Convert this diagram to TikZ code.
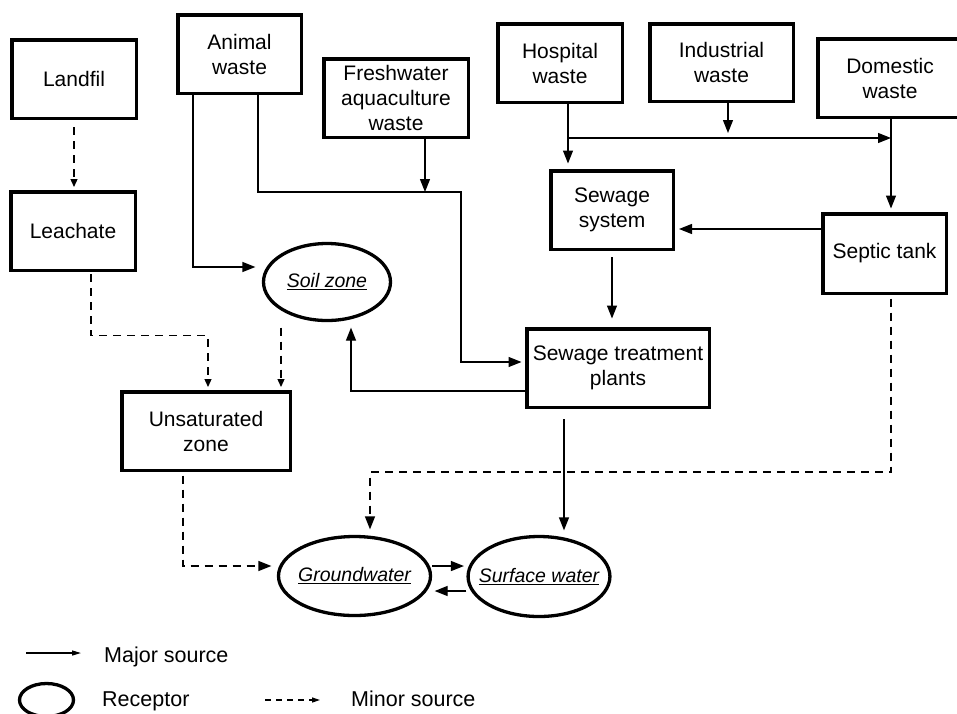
\documentclass[tikz,border=0pt]{standalone}
\usepackage{fontspec}
\setmainfont{Liberation Sans}
\usetikzlibrary{arrows.meta,shapes.geometric}
\newcommand\boxfont{\fontsize{21}{25}\selectfont}
\newcommand\recfont{\fontsize{19.5}{23}\selectfont\itshape}
\newcommand\keyfont{\fontsize{21.5}{25}\selectfont}

\begin{document}
\begin{tikzpicture}[x=1pt,y=-1pt,
	srcbox/.style={draw, line width=3.5pt, align=center, inner sep=0pt, font=\boxfont},
	receptor/.style={ellipse, draw, line width=3.3pt, inner xsep=-10pt, inner ysep=0pt, font=\recfont},
	majorflow/.style={line width=1.3pt, -{Triangle[length=13pt,width=10pt]}},
	minorflow/.style={majorflow, dash pattern=on 8pt off 6pt},
	minorthin/.style={line width=1.3pt, dash pattern=on 8pt off 6pt, -{Triangle[length=8pt,width=7pt]}},
	keytext/.style={anchor=base west, inner sep=0pt, font=\keyfont}]
	\useasboundingbox (0,0) rectangle (957,713);
	% sources and stages
	\node (landfil)    at (74,79)      [srcbox, minimum width=124.5pt, minimum height=78.5pt] {Landfil};
	\node (leachate)   at (73,231)     [srcbox, minimum width=124.5pt, minimum height=78.5pt] {Leachate};
	\node (animal)     at (239.5,54)   [srcbox, minimum width=123.5pt, minimum height=78.5pt] {Animal\\waste};
	\node (fresh)      at (396,98)     [srcbox, minimum width=144.5pt, minimum height=78.5pt] {Freshwater\\aquaculture\\waste};
	\node (hospital)   at (560,63)     [srcbox, minimum width=124.5pt, minimum height=78.5pt] {Hospital\\waste};
	\node (industrial) at (721.5,62.5) [srcbox, minimum width=143.5pt, minimum height=77.5pt] {Industrial\\waste};
	\node (domestic)   at (890,78)     [srcbox, minimum width=144.5pt, minimum height=78.5pt] {Domestic\\waste};
	\node (sewsys)     at (612,210)    [srcbox, minimum width=122.5pt, minimum height=78.5pt] {Sewage\\system};
	\node (septic)     at (884.5,253.5) [srcbox, minimum width=123.5pt, minimum height=79.5pt] {Septic tank};
	\node (stp)        at (618,368)    [srcbox, minimum width=182.5pt, minimum height=78.5pt] {Sewage treatment\\plants};
	\node (unsat)      at (206,431)    [srcbox, minimum width=168.5pt, minimum height=78.5pt] {Unsaturated\\zone};
	% receptors
	\node (soil)    at (327,282)     [receptor, minimum width=127pt, minimum height=77pt] {\underline{Soil zone}};
	\node (ground)  at (354.5,576)   [receptor, minimum width=152pt, minimum height=79pt] {\underline{Groundwater}};
	\node (surface) at (539,576.5)   [receptor, minimum width=141pt, minimum height=80pt] {\underline{Surface water}};
	% junctions
	\coordinate (mixpt)   at (461,192);
	\coordinate (freshin) at (425,192);
	\coordinate (hosppt)  at (568,138);
	\coordinate (indpt)   at (728,138);
	\coordinate (dompt)   at (891,138);
	\coordinate (gwpt)    at (370,472);
	% minor flows
	\draw[minorthin, shorten <=7pt, shorten >=3pt] (landfil.south) -- (landfil.south |- leachate.north);
	\draw[minorthin, shorten <=2pt, shorten >=3pt] ([xshift=18pt]leachate.south) -- ++(0,63.6) -| ([xshift=2pt]unsat.north);
	\draw[minorthin, shorten <=5.5pt, shorten >=3pt] ([xshift=-46pt]soil.south) -- ([xshift=75pt]unsat.north);
	\draw[minorflow, shorten <=3.5pt, shorten >=5.5pt] (septic.south -| dompt) |- (gwpt) -- (ground.north -| gwpt);
	\draw[minorflow, shorten <=3.5pt, shorten >=5.5pt] ([xshift=-23pt]unsat.south) |- ([yshift=10pt]ground.west);
	% major flows
	\draw[majorflow, shorten >=6.5pt] ([xshift=-46.5pt]animal.south) |- ([yshift=15pt]soil.west);
	\draw[majorflow, shorten >=3.5pt] ([xshift=18.5pt]animal.south) |- (mixpt) |- ([yshift=6pt]stp.west);
	\draw[majorflow] (fresh.south -| freshin) -- (freshin);
	\draw[majorflow, shorten >=5.5pt] ([yshift=-23pt]stp.west) -| ([xshift=24pt]soil.south);
	\draw[majorflow, shorten >=5.5pt] (hospital.south -| hosppt) -- (sewsys.north -| hosppt);
	\draw[majorflow] (hosppt) -- (dompt);
	\draw[majorflow, shorten >=5pt] (industrial.south -| indpt) -- (indpt);
	\draw[majorflow, shorten >=3.5pt] (domestic.south -| dompt) -- (septic.north -| dompt);
	\draw[majorflow, shorten >=4pt] ([yshift=24.5pt]septic.west) -- ([yshift=-19pt]sewsys.east);
	\draw[majorflow, shorten <=6pt, shorten >=8.5pt] (sewsys.south) -- (sewsys.south |- stp.north);
	\draw[majorflow, shorten <=10pt, shorten >=4.5pt] ([xshift=-54pt]stp.south) -- ([xshift=25pt]surface.north);
	\draw[majorflow, shorten >=2.5pt] ([yshift=10pt]ground.east) -- ([yshift=10.5pt]surface.west);
	\draw[majorflow, shorten >=2.5pt] ([yshift=-14.5pt]surface.west) -- ([yshift=-15pt]ground.east);
	% key
	\coordinate (keymajor) at (26,653);
	\coordinate (keyminor) at (265,700);
	\draw[line width=1.3pt, -{Triangle[length=9pt,width=5pt]}] (keymajor) -- ++(55,0);
	\node (majortext) at (104,662.5) [keytext] {Major source};
	\node (keyrec) at (46.5,700) [ellipse, draw, line width=3.3pt, minimum width=54pt, minimum height=33pt] {};
	\node (rectext) at (102,706) [keytext] {Receptor};
	\draw[line width=1.3pt, dash pattern=on 6pt off 5pt, -{Triangle[length=8pt,width=5pt]}] (keyminor) -- ++(55,0);
	\node (minortext) at (351,706.5) [keytext] {Minor source};
\end{tikzpicture}
\end{document}
